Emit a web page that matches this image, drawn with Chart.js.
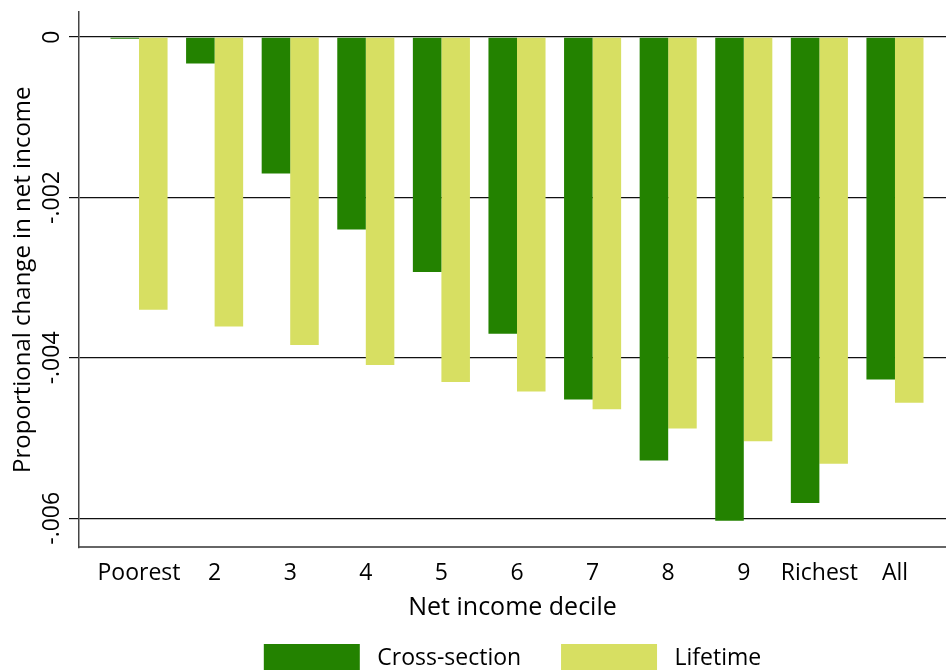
<!DOCTYPE html>
<html>
<head>
<meta charset="utf-8">
<script src="https://cdn.jsdelivr.net/npm/chart.js@4/dist/chart.umd.min.js"></script>
<style>
    html, body { margin: 0; padding: 0; background: #fff; overflow: hidden; }
    #wrap { width: 946px; height: 682px; }
</style>
</head>
<body>
<div id="wrap"><canvas id="incomeChart" width="946" height="682"></canvas></div>
<script>
const deciles = ['Poorest', '2', '3', '4', '5', '6', '7', '8', '9', 'Richest', 'All'];
const crossSection = [-0.00002, -0.00033, -0.0017, -0.0024, -0.00293, -0.0037, -0.00452, -0.00528, -0.00603, -0.00581, -0.00427];
const lifetime = [-0.0034, -0.00361, -0.00384, -0.00409, -0.0043, -0.00442, -0.00464, -0.00488, -0.00504, -0.00532, -0.00456];
const yTicks = [0, -0.002, -0.004, -0.006];

(function() {
    Chart.defaults.font.family = "'Open Sans', sans-serif";
    Chart.defaults.color = '#000';

    const toPoints = (values) => values.map((v, i) => ({ x: i, y: v }));

    const ctx = document.getElementById('incomeChart').getContext('2d');

    new Chart(ctx, {
        type: 'bar',
        data: {
            datasets: [{
                label: 'Cross-section',
                data: toPoints(crossSection),
                backgroundColor: '#238200',
                categoryPercentage: 0.755,
                barPercentage: 1.0
            }, {
                label: 'Lifetime',
                data: toPoints(lifetime),
                backgroundColor: '#d7df62',
                categoryPercentage: 0.755,
                barPercentage: 1.0
            }]
        },
        options: {
            responsive: false,
            animation: false,
            devicePixelRatio: 1,
            layout: { padding: { top: 12, left: 0, right: 0, bottom: 0 } },
            scales: {
                x: {
                    type: 'linear',
                    offset: false,
                    min: -0.794,
                    max: 10.675,
                    afterBuildTicks: (scale) => {
                        scale.ticks = deciles.map((d, i) => ({ value: i }));
                    },
                    ticks: {
                        autoSkip: false,
                        maxRotation: 0,
                        padding: 12,
                        font: { size: 23 },
                        callback: (value) => deciles[value]
                    },
                    grid: { display: false, drawTicks: false },
                    border: { display: true, color: '#666', width: 2 },
                    title: {
                        display: true,
                        text: 'Net income decile',
                        font: { size: 25 },
                        padding: { top: -6, bottom: 11 }
                    }
                },
                y: {
                    min: -0.0063625,
                    max: 0.0003125,
                    afterBuildTicks: (scale) => {
                        scale.ticks = yTicks.map(v => ({ value: v }));
                    },
                    afterFit: (scale) => {
                        scale.width = 79;
                    },
                    ticks: {
                        minRotation: 90,
                        maxRotation: 90,
                        crossAlign: 'center',
                        padding: -10,
                        font: { size: 23 },
                        callback: (value) => value === 0 ? '0' : '-' + String(Math.abs(value)).replace(/^0/, '')
                    },
                    grid: {
                        color: '#111',
                        lineWidth: 1.2,
                        tickLength: 10,
                        drawTicks: true
                    },
                    border: { display: true, color: '#444', width: 1.5 },
                    title: {
                        display: true,
                        text: 'Proportional change in net income',
                        font: { size: 24 },
                        padding: { top: 9, bottom: 0 }
                    }
                }
            },
            plugins: {
                tooltip: { enabled: false },
                legend: {
                    position: 'bottom',
                    fullSize: false,
                    labels: {
                        boxWidth: 96,
                        boxHeight: 28,
                        padding: 10,
                        font: { size: 23 },
                        generateLabels: function(chart) {
                            const items = Chart.defaults.plugins.legend.labels.generateLabels(chart);
                            // a bit more room after each box and between the two entries
                            items.forEach((item, i) => {
                                item.lineWidth = 0;
                                item.text = ' ' + item.text;
                                if (i < items.length - 1) item.text = item.text + '     ';
                            });
                            return items;
                        }
                    }
                }
            }
        }
    });
})();
</script>
</body>
</html>
